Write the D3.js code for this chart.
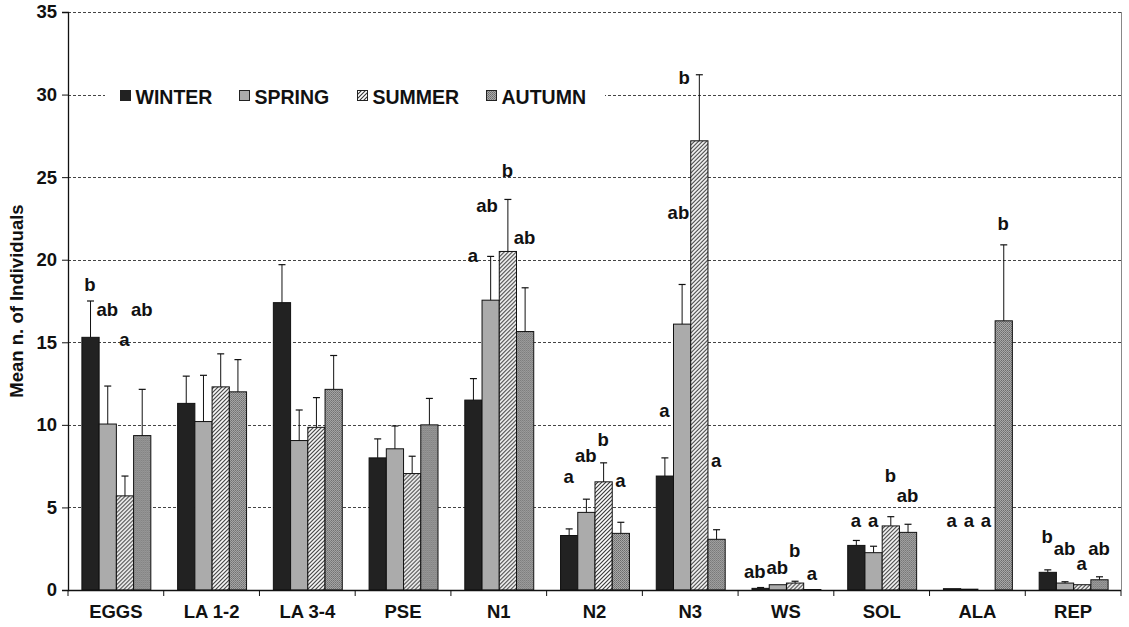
<!DOCTYPE html>
<html>
<head>
<meta charset="utf-8">
<script src="https://cdn.jsdelivr.net/npm/d3@7"></script>
<style>
  html, body { margin: 0; padding: 0; background: #fff; }
  svg { display: block; font-family: "Liberation Sans", Arial, sans-serif; }
</style>
</head>
<body>
<svg id="chart" width="1129" height="627"></svg>
<script>
// Stage / group categories along the x axis
const categories = ["EGGS", "LA 1-2", "LA 3-4", "PSE", "N1", "N2", "N3", "WS", "SOL", "ALA", "REP"];
const seasons = ["WINTER", "SPRING", "SUMMER", "AUTUMN"];

// Mean number of individuals per season (one value per category)
const winter = [15.3, 11.3, 17.4, 8.0, 11.5, 3.3, 6.9, 0.1, 2.7, 0.08, 1.07];
const spring = [10.05, 10.2, 9.05, 8.55, 17.55, 4.7, 16.1, 0.32, 2.26, 0.05, 0.42];
const summer = [5.7, 12.3, 9.85, 7.05, 20.5, 6.55, 27.2, 0.42, 3.88, 0, 0.32];
const autumn = [9.35, 12.0, 12.15, 10.0, 15.65, 3.43, 3.07, 0.03, 3.49, 16.3, 0.62];

// Upper end of the standard error bars
const winterErr = [17.5, 12.95, 19.7, 9.15, 12.8, 3.7, 8.0, 0.15, 3.0, 0.08, 1.22];
const springErr = [12.35, 13.0, 10.9, 9.93, 20.2, 5.5, 18.5, 0.36, 2.65, 0.05, 0.5];
const summerErr = [6.9, 14.3, 11.65, 8.1, 23.65, 7.7, 31.2, 0.53, 4.44, 0, 0.36];
const autumnErr = [12.15, 13.95, 14.2, 11.6, 18.3, 4.1, 3.65, 0.03, 3.98, 20.9, 0.8];

// Significance letters (Tukey groups) and the height at which each is written
const letters = [
  ["b", "ab", "a", "ab"], ["", "", "", ""], ["", "", "", ""], ["", "", "", ""],
  ["a", "ab", "b", "ab"], ["a", "ab", "b", "a"], ["a", "ab", "b", "a"],
  ["ab", "ab", "b", "a"], ["a", "a", "b", "ab"], ["a", "a", "a", "b"], ["b", "ab", "a", "ab"]
];
const letterAt = [
  [18.1, 16.6, 14.8, 16.6], [0, 0, 0, 0], [0, 0, 0, 0], [0, 0, 0, 0],
  [19.85, 22.9, 25.0, 20.95], [6.45, 7.75, 8.7, 6.25], [10.45, 22.45, 30.65, 7.45],
  [0.75, 0.95, 2.0, 0.6], [3.8, 3.8, 6.55, 5.35], [3.8, 3.8, 3.8, 21.8], [2.85, 2.1, 1.2, 2.1]
];

const yTicks = [0, 5, 10, 15, 20, 25, 30, 35];

const means = [winter, spring, summer, autumn];
const errs = [winterErr, springErr, summerErr, autumnErr];

const svg = d3.select("#chart");
const plotLeft = 68, plotRight = 1121, plotTop = 12, plotBottom = 590;
const FONT = "'Liberation Sans', Arial, sans-serif";

const x0 = d3.scaleBand().domain(categories).range([plotLeft, plotRight]).paddingInner(0.28).paddingOuter(0.14);
const x1 = d3.scaleBand().domain(seasons).range([0, x0.bandwidth()]);
const y = d3.scaleLinear().domain([0, 35]).range([plotBottom, plotTop]);

// Fill patterns
const defs = svg.append("defs");
const hatch = defs.append("pattern").attr("id", "hatch").attr("patternUnits", "userSpaceOnUse")
  .attr("width", 4).attr("height", 4);
hatch.append("rect").attr("width", 4).attr("height", 4).attr("fill", "#fff");
hatch.append("path").attr("d", "M-1,1 l2,-2 M0,4 l4,-4 M3,5 l2,-2")
  .attr("stroke", "#333").attr("stroke-width", 1.1);

const dots = defs.append("pattern").attr("id", "dots").attr("patternUnits", "userSpaceOnUse")
  .attr("width", 2).attr("height", 2);
dots.append("rect").attr("width", 2).attr("height", 2).attr("fill", "#ababab");
dots.append("rect").attr("width", 1).attr("height", 1).attr("fill", "#6a6a6a");
dots.append("rect").attr("x", 1).attr("y", 1).attr("width", 1).attr("height", 1).attr("fill", "#7a7a7a");

const fills = { WINTER: "#222222", SPRING: "#ababab", SUMMER: "url(#hatch)", AUTUMN: "url(#dots)" };

// Dashed grid lines
svg.append("g").selectAll("line").data(yTicks.filter(t => t > 0)).join("line")
  .attr("x1", plotLeft).attr("x2", plotRight)
  .attr("y1", d => Math.round(y(d)) + 0.5).attr("y2", d => Math.round(y(d)) + 0.5)
  .attr("stroke", "#444").attr("stroke-width", 1).attr("stroke-dasharray", "3,2");

// Right frame line
svg.append("line").attr("x1", plotRight + 0.5).attr("x2", plotRight + 0.5).attr("y1", plotTop).attr("y2", plotBottom)
  .attr("stroke", "#888").attr("stroke-width", 1);

// Legend (white box over the 30 grid line)
const legend = svg.append("g");
legend.append("rect").attr("x", 105).attr("y", 84).attr("width", 500).attr("height", 24).attr("fill", "#fff");
const legendX = [120.5, 239.5, 357.5, 486.5];
seasons.forEach((s, i) => {
  legend.append("rect").attr("x", legendX[i]).attr("y", 90.5).attr("width", 10).attr("height", 10)
    .attr("fill", fills[s]).attr("stroke", "#222").attr("stroke-width", 1);
  legend.append("text").attr("x", legendX[i] + 15).attr("y", 103.5)
    .attr("font-size", 19.5).attr("font-weight", "bold").attr("fill", "#111").text(s);
});

// Bars and error bars
const groups = svg.append("g").selectAll("g").data(categories).join("g")
  .attr("transform", d => `translate(${x0(d)},0)`);
const bw = x1.bandwidth();

groups.each(function (cat, ci) {
  const g = d3.select(this);
  seasons.forEach((s, si) => {
    const v = means[si][ci];
    const bx = x1(s);
    if (v > 0) {
      g.append("rect")
        .attr("x", bx + 0.5).attr("y", y(v))
        .attr("width", bw).attr("height", Math.max(0.5, y(0) - y(v)))
        .attr("fill", fills[s]).attr("stroke", "#111").attr("stroke-width", 1);
    }
    const e = errs[si][ci];
    if (e - v > 0.04) {
      const cx = bx + bw / 2 + 0.5;
      g.append("line").attr("x1", cx).attr("x2", cx).attr("y1", y(v)).attr("y2", y(e))
        .attr("stroke", "#111").attr("stroke-width", 1);
      g.append("line").attr("x1", cx - 3.5).attr("x2", cx + 3.5).attr("y1", y(e)).attr("y2", y(e))
        .attr("stroke", "#111").attr("stroke-width", 1.2);
    }
  });
});

// Significance letters: centred over each bar, nudged left when they would
// run into their own error bar, the next bar, or the next letter.
const LETTER_SIZE = 18.5;
groups.each(function (cat, ci) {
  const g = d3.select(this);
  const placed = seasons.map((s, si) => {
    const t = letters[ci][si];
    if (!t) return null;
    const node = g.append("text")
      .attr("text-anchor", "middle").attr("font-size", LETTER_SIZE).attr("font-weight", "bold")
      .attr("fill", "#111").text(t);
    return { node, si, w: node.node().getComputedTextLength(), cx: x1(s) + bw / 2, by: y(letterAt[ci][si]) };
  });
  // right-to-left so each letter can react to its final right-hand neighbour
  for (let si = 3; si >= 0; si--) {
    const p = placed[si];
    if (!p) continue;
    // own error bar passes through the letter
    if (p.by > y(errs[si][ci]) + 2) p.cx -= bw * 0.85;
    // next bar (with its error bar) rises past the letter
    if (si < 3) {
      const nextLeft = x1(seasons[si + 1]);
      const nextTop = y(Math.max(means[si + 1][ci], errs[si + 1][ci]));
      if (nextTop < p.by && p.cx + p.w / 2 > nextLeft - 1) p.cx = nextLeft - 1 - p.w / 2;
      const q = placed[si + 1];
      if (q && Math.abs(q.by - p.by) < 14) {
        const overlap = (p.cx + p.w / 2) - (q.cx - q.w / 2);
        if (overlap > -1) p.cx -= overlap + 1;
      }
    }
    p.node.attr("x", p.cx).attr("y", p.by);
  }
});

// Y axis
const yAxis = d3.axisLeft(y).tickValues(yTicks).tickSize(6).tickPadding(5);
const ya = svg.append("g").attr("transform", `translate(${plotLeft},0)`).call(yAxis);
ya.select(".domain").attr("stroke", "#111").attr("stroke-width", 1.3);
ya.selectAll(".tick line").attr("stroke", "#111");
ya.selectAll("text").attr("font-size", 18.5).attr("font-weight", "bold").attr("fill", "#111")
  .attr("font-family", FONT);

// X axis baseline and category separators
svg.append("line").attr("x1", plotLeft).attr("x2", plotRight).attr("y1", plotBottom + 0.5).attr("y2", plotBottom + 0.5)
  .attr("stroke", "#111").attr("stroke-width", 1.5);
const step = x0.step();
svg.append("g").selectAll("line").data(d3.range(categories.length + 1)).join("line")
  .attr("x1", i => plotLeft + i * step).attr("x2", i => plotLeft + i * step)
  .attr("y1", plotBottom).attr("y2", plotBottom + 6)
  .attr("stroke", "#111").attr("stroke-width", 1);
svg.append("g").selectAll("text").data(categories).join("text")
  .attr("x", d => x0(d) + x0.bandwidth() / 2).attr("y", 618)
  .attr("text-anchor", "middle").attr("font-size", 18.5).attr("font-weight", "bold").attr("fill", "#111")
  .text(d => d);

// Y axis title
svg.append("text").attr("transform", "translate(23,301) rotate(-90)")
  .attr("text-anchor", "middle").attr("font-size", 18.5).attr("font-weight", "bold").attr("fill", "#111")
  .text("Mean n. of Individuals");
</script>
</body>
</html>
